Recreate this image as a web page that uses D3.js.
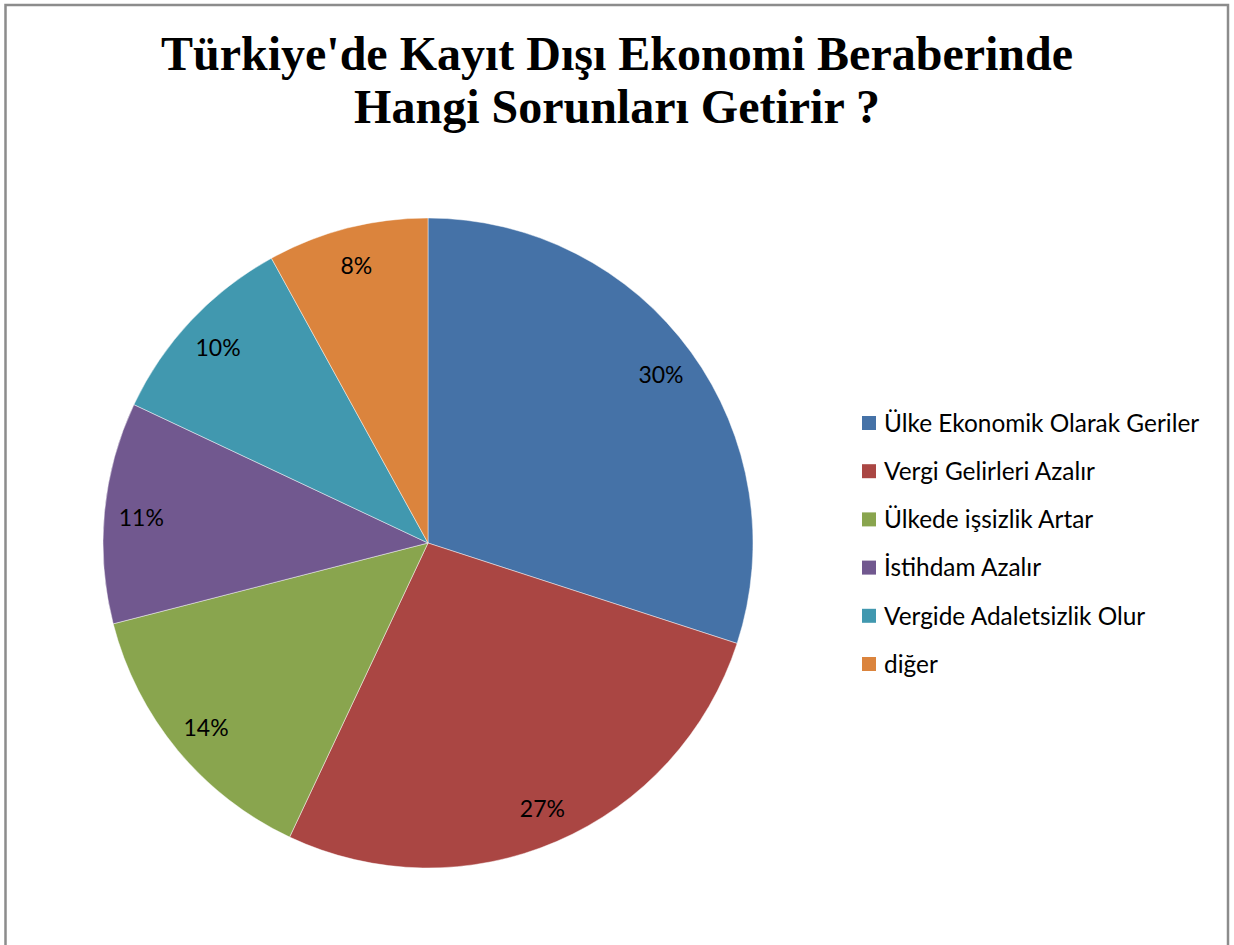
<!DOCTYPE html>
<meta charset="utf-8">
<style>
body { margin: 0; background: #fff; }
.title { font: bold 48px "Liberation Serif", "Times New Roman", serif; fill: #000; }
.lbl { font: 23px Lato, "Open Sans", sans-serif; fill: #000; }
.leg { font: 24.4px Lato, "Open Sans", sans-serif; fill: #000; }
</style>
<body>
<script src="https://cdn.jsdelivr.net/npm/d3@7"></script>
<script>

var categories = ["Ülke Ekonomik Olarak Geriler", "Vergi Gelirleri Azalır", "Ülkede işsizlik Artar",
                  "İstihdam Azalır", "Vergide Adaletsizlik Olur", "diğer"];
var values = [30, 27, 14, 11, 10, 8];
var colors = ["#4572A7", "#AA4643", "#89A54E", "#71588F", "#4198AF", "#DB843D"];
var titleLines = ["Türkiye'de Kayıt Dışı Ekonomi Beraberinde", "Hangi Sorunları Getirir ?"];

var width = 1234, height = 945;
var cx = 428, cy = 543, r = 325;

var svg = d3.select("body").append("svg")
    .attr("width", width)
    .attr("height", height);

// outer frame (bottom edge is off the page)
svg.append("rect")
    .attr("x", 5.5).attr("y", 5)
    .attr("width", 1222.5).attr("height", 1000)
    .attr("fill", "none")
    .attr("stroke", "#8c8c8c")
    .attr("stroke-width", 2.5);

svg.selectAll("text.title")
    .data(titleLines)
  .enter().append("text")
    .attr("class", "title")
    .attr("x", 617)
    .attr("y", function(d, i) { return 70 + i * 53; })
    .attr("text-anchor", "middle")
    .text(function(d) { return d; });

var pie = d3.pie().sort(null).value(function(d) { return d; });
var arcs = pie(values);
var arc = d3.arc().innerRadius(0).outerRadius(r);
var labelArc = d3.arc().innerRadius(288).outerRadius(288);
var total = d3.sum(values);

var g = svg.append("g").attr("transform", "translate(" + cx + "," + cy + ")");

g.selectAll("path")
    .data(arcs)
  .enter().append("path")
    .attr("d", arc)
    .attr("fill", function(d, i) { return colors[i]; })
    .attr("stroke", "rgba(255,255,255,0.45)")
    .attr("stroke-width", 1);

g.selectAll("text")
    .data(arcs)
  .enter().append("text")
    .attr("class", "lbl")
    .attr("transform", function(d) { return "translate(" + labelArc.centroid(d) + ")"; })
    .attr("text-anchor", "middle")
    .attr("dy", "0.42em")
    .text(function(d) { return Math.round(d.value / total * 100) + "%"; });

// legend
var legend = svg.append("g").attr("transform", "translate(862,423)");
var rows = legend.selectAll("g")
    .data(categories)
  .enter().append("g")
    .attr("transform", function(d, i) { return "translate(0," + (i * 48.2) + ")"; });

rows.append("rect")
    .attr("x", 0).attr("y", -7)
    .attr("width", 14).attr("height", 14)
    .attr("fill", function(d, i) { return colors[i]; });

rows.append("text")
    .attr("class", "leg")
    .attr("x", 22)
    .attr("dy", "0.36em")
    .text(function(d) { return d; });

</script>
</body>
